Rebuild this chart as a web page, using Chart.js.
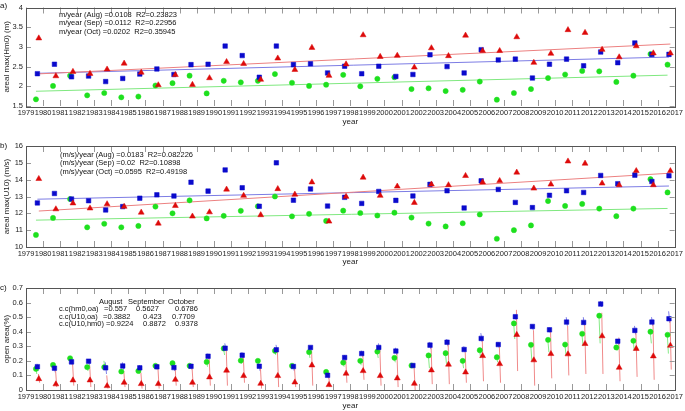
<!DOCTYPE html>
<html>
<head>
<meta charset="utf-8">
<script src="https://cdn.jsdelivr.net/npm/chart.js@4.4.0/dist/chart.umd.min.js"></script>
<style>
  body { margin: 0; background: #fff; width: 685px; height: 411px; position: relative; overflow: hidden;
         font-family: "Liberation Sans", Arial, sans-serif; }
  .panel { position: absolute; left: 0; width: 685px; }
  .txt { position: absolute; font-size: 7.5px; line-height: 8.3px; color: #111; white-space: pre; }
  .lab { position: absolute; font-size: 8px; color: #111; }
</style>
</head>
<body>
<div class="panel" style="top:0;height:127px"><canvas id="chartA"></canvas></div>
<div class="panel" style="top:135px;height:132px"><canvas id="chartB"></canvas></div>
<div class="panel" style="top:270px;height:141px"><canvas id="chartC"></canvas></div>

<div class="lab" style="left:0;top:1px">a)</div>
<div class="lab" style="left:0;top:141px">b)</div>
<div class="lab" style="left:0;top:283px">c)</div>

<div class="txt" style="left:59px;top:11px">m/year (Aug) =0.0108  R2=0.23823
m/year (Sep) =0.0112  R2=0.22956
m/year (Oct) =0.0202  R2=0.35945</div>

<div class="txt" style="left:60px;top:151px">(m/s)/year (Aug) =0.0183  R2=0.082226
(m/s)/year (Sep) =0.02  R2=0.10898
(m/s)/year (Oct) =0.0595  R2=0.49198</div>

<div class="txt" style="left:99px;top:298px">August</div>
<div class="txt" style="left:128px;top:298px">September</div>
<div class="txt" style="left:168px;top:298px">October</div>
<div class="txt" style="left:59px;top:305px">c.c(hm0,oa)</div>
<div class="txt" style="left:104px;top:305px">=0.557</div>
<div class="txt" style="left:136px;top:305px">0.5627</div>
<div class="txt" style="left:175px;top:305px">0.6786</div>
<div class="txt" style="left:59px;top:313px">c.c(U10,oa)</div>
<div class="txt" style="left:103px;top:313px">=0.3882</div>
<div class="txt" style="left:143px;top:313px">0.423</div>
<div class="txt" style="left:172px;top:313px">0.7709</div>
<div class="txt" style="left:59px;top:320px">c.c(U10,hm0) =0.9224</div>
<div class="txt" style="left:143px;top:320px">0.8872</div>
<div class="txt" style="left:175px;top:320px">0.9378</div>

<script>
// years of the three months (Aug, Sep, Oct)
const years = [1979, 1980, 1981, 1982, 1983, 1984, 1985, 1986, 1987, 1988,
               1989, 1990, 1991, 1992, 1993, 1994, 1995, 1996, 1997, 1998,
               1999, 2000, 2001, 2002, 2003, 2004, 2005, 2006, 2007, 2008,
               2009, 2010, 2011, 2012, 2013, 2014, 2015, 2016];

// a) areal max(Hm0) (m)
const hm0Aug = [1.67, 2.01, 2.27, 1.77, 1.83, 1.72, 1.74, 2.02, 2.08, 2.27,
                1.82, 2.14, 2.10, 2.14, 2.31, 2.09, 2.01, 2.04, 2.29, 2.00,
                2.19, 2.23, 1.93, 1.95, 1.88, 1.91, 2.12, 1.66, 1.83, 1.93,
                2.21, 2.30, 2.39, 2.38, 2.11, 2.27, 2.82, 2.55];
const hm0Sep = [2.32, 2.56, 2.24, 2.26, 2.12, 2.20, 2.31, 2.44, 2.30, 2.55,
                2.56, 3.02, 2.78, 2.23, 3.02, 2.55, 2.57, 2.34, 2.51, 2.32,
                2.51, 2.25, 2.30, 2.80, 2.50, 2.34, 2.93, 2.67, 2.69, 2.21,
                2.56, 2.69, 2.52, 2.87, 2.60, 3.10, 2.81, 2.81];
const hm0Oct = [3.22, 2.26, 2.37, 2.32, 2.43, 2.58, 2.35, 2.03, 2.29, 2.04,
                2.21, 2.62, 2.57, 2.17, 2.71, 2.42, 2.98, 2.27, 2.56, 3.30,
                2.75, 2.78, 2.48, 2.97, 2.77, 3.29, 2.90, 2.90, 3.25, 2.60,
                2.83, 3.43, 3.36, 2.93, 2.74, 3.02, 2.84, 2.84];

// b) areal max(U10) (m/s)
const u10Aug = [10.72, 11.73, 12.85, 11.17, 11.38, 11.17, 11.25, 12.40, 12.00, 12.77,
                11.70, 11.85, 12.15, 12.42, 13.00, 11.82, 11.97, 11.55, 12.16, 12.02,
                11.87, 12.04, 11.75, 11.39, 11.22, 11.41, 11.93, 10.49, 11.00, 11.28,
                12.73, 12.44, 12.56, 12.28, 11.83, 12.28, 14.03, 13.24];
const u10Sep = [12.62, 13.18, 12.85, 12.75, 12.20, 12.40, 12.90, 13.10, 13.03, 13.85,
                13.32, 14.58, 13.52, 12.42, 15.00, 12.78, 13.45, 12.43, 12.95, 12.59,
                13.30, 12.77, 13.03, 13.72, 13.34, 12.32, 13.93, 13.42, 12.65, 12.34,
                13.07, 13.34, 13.24, 14.25, 13.76, 14.27, 13.89, 14.23];
const u10Oct = [14.05, 12.25, 12.60, 12.30, 12.55, 12.40, 12.05, 11.40, 12.45, 11.82,
                12.07, 13.42, 13.05, 11.90, 13.45, 13.12, 13.85, 11.52, 12.99, 14.13,
                13.05, 13.60, 12.63, 13.72, 13.68, 14.23, 13.85, 13.93, 14.43, 13.48,
                13.72, 15.09, 14.96, 13.78, 13.68, 14.52, 13.68, 14.52];

// c) open area(%) : value, and the low / high end of the vertical line
const oaAug = [0.145, 0.172, 0.218, 0.157, 0.157, 0.127, 0.131, 0.166, 0.184, 0.166,
               0.193, 0.285, 0.202, 0.200, 0.269, 0.166, 0.260, 0.124, 0.188, 0.200,
               0.264, 0.221, 0.168, 0.237, 0.253, 0.200, 0.273, 0.225, 0.457, 0.310,
               0.344, 0.312, 0.386, 0.510, 0.292, 0.338, 0.400, 0.379];
const oaAugLo = [0.11, 0.15, 0.19, 0.13, 0.14, 0.11, 0.11, 0.14, 0.16, 0.15,
                 0.16, 0.24, 0.18, 0.18, 0.24, 0.15, 0.22, 0.11, 0.16, 0.17,
                 0.22, 0.19, 0.15, 0.15, 0.18, 0.15, 0.22, 0.19, 0.35, 0.20,
                 0.26, 0.24, 0.30, 0.32, 0.27, 0.27, 0.32, 0.25];
const oaAugHi = [0.16, 0.18, 0.23, 0.17, 0.20, 0.14, 0.14, 0.17, 0.19, 0.17,
                 0.20, 0.29, 0.21, 0.21, 0.28, 0.17, 0.27, 0.13, 0.20, 0.21,
                 0.27, 0.23, 0.17, 0.25, 0.26, 0.21, 0.28, 0.23, 0.47, 0.32,
                 0.35, 0.32, 0.39, 0.52, 0.30, 0.35, 0.41, 0.39];
const oaSep = [0.160, 0.150, 0.193, 0.198, 0.152, 0.165, 0.152, 0.159, 0.154, 0.163,
               0.232, 0.287, 0.239, 0.163, 0.276, 0.161, 0.292, 0.101, 0.223, 0.250,
               0.292, 0.267, 0.168, 0.308, 0.328, 0.278, 0.354, 0.312, 0.503, 0.436,
               0.413, 0.466, 0.464, 0.590, 0.335, 0.409, 0.466, 0.489];
const oaSepLo = [0.13, 0.12, 0.17, 0.17, 0.11, 0.14, 0.13, 0.14, 0.13, 0.14,
                 0.21, 0.27, 0.21, 0.13, 0.26, 0.13, 0.27, 0.08, 0.20, 0.23,
                 0.27, 0.24, 0.15, 0.28, 0.30, 0.26, 0.33, 0.29, 0.48, 0.41,
                 0.39, 0.44, 0.44, 0.57, 0.31, 0.38, 0.44, 0.46];
const oaSepHi = [0.18, 0.17, 0.21, 0.21, 0.19, 0.19, 0.17, 0.17, 0.17, 0.18,
                 0.25, 0.32, 0.26, 0.18, 0.31, 0.18, 0.30, 0.12, 0.24, 0.27,
                 0.32, 0.29, 0.18, 0.33, 0.35, 0.30, 0.39, 0.33, 0.52, 0.45,
                 0.43, 0.50, 0.50, 0.61, 0.35, 0.44, 0.50, 0.54];
const oaOct = [0.076, 0.040, 0.067, 0.067, 0.028, 0.051, 0.042, 0.042, 0.071, 0.051,
               0.088, 0.134, 0.097, 0.044, 0.097, 0.053, 0.170, 0.035, 0.113, 0.131,
               0.097, 0.081, 0.044, 0.136, 0.175, 0.122, 0.234, 0.179, 0.379, 0.205,
               0.248, 0.246, 0.317, 0.370, 0.154, 0.283, 0.232, 0.305];
const oaOctLo = [0.05, 0.02, 0.03, 0.02, 0.01, 0.02, 0.01, 0.01, 0.03, 0.02,
                 0.03, 0.03, 0.05, 0.01, 0.02, 0.02, 0.03, 0.02, 0.05, 0.07,
                 0.03, 0.02, 0.00, 0.04, 0.04, 0.05, 0.06, 0.05, 0.13, 0.03,
                 0.08, 0.10, 0.11, 0.11, 0.06, 0.09, 0.07, 0.14];
const oaOctHi = [0.11, 0.14, 0.18, 0.17, 0.10, 0.13, 0.12, 0.15, 0.17, 0.15,
                 0.22, 0.28, 0.23, 0.16, 0.26, 0.15, 0.27, 0.10, 0.22, 0.24,
                 0.28, 0.25, 0.17, 0.30, 0.32, 0.26, 0.34, 0.30, 0.55, 0.41,
                 0.40, 0.44, 0.45, 0.53, 0.36, 0.39, 0.46, 0.48];

const FONT = "'Liberation Sans', Arial, sans-serif";
const GREEN = '#1ee01e', BLUE = '#0a0acc', RED = '#dd0a0a';
// position of each month inside its year on the time axis
const OFF = { aug: 7 / 12, sep: 8 / 12, oct: 9 / 12 };

const pts = (vals, off) => vals.map((v, i) => ({ x: years[i] + off, y: v }));

// least squares trend line, from first to last point
function trend(vals, off) {
  const xs = years.map(y => y + off);
  const n = xs.length;
  const mx = xs.reduce((a, b) => a + b, 0) / n;
  const my = vals.reduce((a, b) => a + b, 0) / n;
  let sxy = 0, sxx = 0;
  for (let i = 0; i < n; i++) { sxy += (xs[i] - mx) * (vals[i] - my); sxx += (xs[i] - mx) ** 2; }
  const b = sxy / sxx;
  return [{ x: xs[0], y: my + b * (xs[0] - mx) }, { x: xs[n - 1], y: my + b * (xs[n - 1] - mx) }];
}

// vertical range lines, broken with nulls
function ranges(lo, hi, off) {
  const out = [];
  years.forEach((y, i) => {
    out.push({ x: y + off - 0.02, y: hi[i] });
    out.push({ x: y + off + 0.05, y: lo[i] });
    out.push({ x: y + off, y: null });
  });
  return out;
}

const markers = (vals, off, color, style, r, order) => ({
  type: 'scatter', data: pts(vals, off), pointStyle: style, pointRadius: r,
  backgroundColor: color, borderColor: color, borderWidth: 0.5, order: order
});
const lineSet = (data, color, order) => ({
  type: 'line', data: data, borderColor: color, borderWidth: 1, pointRadius: 0,
  fill: false, spanGaps: false, order: order
});

// frame round the plot with ticks pointing inwards
const frameTicks = {
  id: 'frameTicks',
  afterDraw(chart) {
    const { ctx, chartArea: a, scales: { x, y } } = chart;
    ctx.save();
    ctx.strokeStyle = '#999';
    ctx.lineWidth = 1;
    ctx.beginPath();
    x.ticks.forEach(t => {
      const px = Math.round(x.getPixelForValue(t.value)) + 0.5;
      ctx.moveTo(px, a.bottom); ctx.lineTo(px, a.bottom - 6);
      ctx.moveTo(px, a.top); ctx.lineTo(px, a.top + 6);
    });
    y.ticks.forEach(t => {
      const py = Math.round(y.getPixelForValue(t.value)) + 0.5;
      ctx.moveTo(a.left, py); ctx.lineTo(a.left + 5, py);
      ctx.moveTo(a.right, py); ctx.lineTo(a.right - 5, py);
    });
    ctx.stroke();
    ctx.strokeStyle = '#555';
    ctx.strokeRect(Math.round(a.left) + 0.5, Math.round(a.top) + 0.5,
                   Math.round(a.right - a.left), Math.round(a.bottom - a.top));
    ctx.restore();
  }
};

function options(yMin, yMax, yStep, yTitle, padTop, xH) {
  const tickFont = { size: 7.5, family: FONT };
  return {
    responsive: true,
    maintainAspectRatio: false,
    animation: false,
    layout: { padding: { top: padTop, right: 9, left: 0, bottom: 0 } },
    plugins: { legend: { display: false }, tooltip: { enabled: false } },
    scales: {
      x: {
        type: 'linear', min: 1979, max: 2017,
        afterFit: s => { s.height = xH; },
        grid: { display: false, drawTicks: false },
        border: { display: false },
        ticks: { stepSize: 1, autoSkip: false, maxRotation: 0, minRotation: 0,
                 font: tickFont, color: '#222', padding: 2, callback: v => String(v) },
        title: { display: true, text: 'year', font: { size: 8, family: FONT }, color: '#222',
                 padding: { top: 0, bottom: 0 } }
      },
      y: {
        min: yMin, max: yMax,
        afterFit: s => { s.width = 26; },
        grid: { display: false, drawTicks: false },
        border: { display: false },
        ticks: { stepSize: yStep, font: tickFont, color: '#222', padding: 3,
                 callback: v => String(+v.toFixed(2)) },
        title: { display: true, text: yTitle, font: { size: 8, family: FONT }, color: '#222',
                 padding: { top: 2, bottom: 0 } }
      }
    }
  };
}

new Chart(document.getElementById('chartA'), {
  type: 'scatter',
  data: { datasets: [
    lineSet(trend(hm0Aug, OFF.aug), '#7fe87f', 6),
    lineSet(trend(hm0Sep, OFF.sep), '#7c7ce4', 5),
    lineSet(trend(hm0Oct, OFF.oct), '#ec8080', 4),
    markers(hm0Aug, OFF.aug, GREEN, 'circle', 2.6, 3),
    markers(hm0Sep, OFF.sep, BLUE, 'rect', 3.2, 2),
    markers(hm0Oct, OFF.oct, RED, 'triangle', 3.4, 1)
  ] },
  options: options(1.5, 4, 0.5, 'areal max(Hm0) (m)', 3, 21),
  plugins: [frameTicks]
});

new Chart(document.getElementById('chartB'), {
  type: 'scatter',
  data: { datasets: [
    lineSet(trend(u10Aug, OFF.aug), '#7fe87f', 6),
    lineSet(trend(u10Sep, OFF.sep), '#7c7ce4', 5),
    lineSet(trend(u10Oct, OFF.oct), '#ec8080', 4),
    markers(u10Aug, OFF.aug, GREEN, 'circle', 2.6, 3),
    markers(u10Sep, OFF.sep, BLUE, 'rect', 3.2, 2),
    markers(u10Oct, OFF.oct, RED, 'triangle', 3.4, 1)
  ] },
  options: options(10, 16, 1, 'areal max(U10) (m/s)', 11, 20),
  plugins: [frameTicks]
});

new Chart(document.getElementById('chartC'), {
  type: 'scatter',
  data: { datasets: [
    lineSet(ranges(oaAugLo, oaAugHi, OFF.aug), '#86ea86', 6),
    lineSet(ranges(oaSepLo, oaSepHi, OFF.sep), '#8080e8', 5),
    lineSet(ranges(oaOctLo, oaOctHi, OFF.oct), '#f08a8a', 4),
    markers(oaAug, OFF.aug, GREEN, 'circle', 2.6, 3),
    markers(oaSep, OFF.sep, BLUE, 'rect', 3.2, 2),
    markers(oaOct, OFF.oct, RED, 'triangle', 3.4, 1)
  ] },
  options: options(0, 0.7, 0.1, 'open area(%)', 18, 21),
  plugins: [frameTicks]
});
</script>
</body>
</html>
